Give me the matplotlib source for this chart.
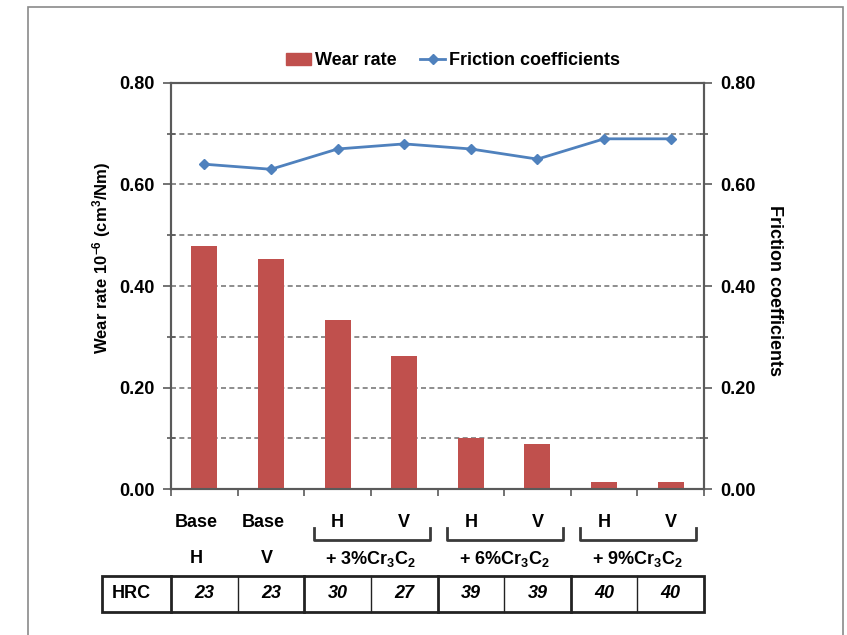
import numpy as np
import matplotlib
matplotlib.use('Agg')
import matplotlib.pyplot as plt
from matplotlib.patches import Patch, Rectangle
from matplotlib.lines import Line2D
from matplotlib.transforms import blended_transform_factory

plt.rcParams['font.family'] = ['Liberation Sans', 'DejaVu Sans']
plt.rcParams['font.weight'] = 'bold'
plt.rcParams['mathtext.fontset'] = 'custom'
plt.rcParams['mathtext.rm'] = 'Liberation Sans:bold'
plt.rcParams['mathtext.it'] = 'Liberation Sans:bold'
plt.rcParams['mathtext.bf'] = 'Liberation Sans:bold'

# data
top_labels = ['Base', 'Base', 'H', 'V', 'H', 'V', 'H', 'V']
base_labels = ['H', 'V']
group_labels = [r'+ 3%Cr$_3$C$_2$', r'+ 6%Cr$_3$C$_2$', r'+ 9%Cr$_3$C$_2$']
wear_rate = [0.478, 0.453, 0.333, 0.263, 0.101, 0.089, 0.013, 0.013]
friction = [0.64, 0.63, 0.67, 0.68, 0.67, 0.65, 0.69, 0.69]
hrc = [23, 23, 30, 27, 39, 39, 40, 40]

bar_c = '#C0504D'
line_c = '#4F81BD'
axis_c = '#5a5a5a'
fs = 13

fig = plt.figure(figsize=(8.47, 6.35), dpi=100)
ax = fig.add_axes([0.2019, 0.2299, 0.6293, 0.6394])
x = np.arange(len(wear_rate))
ax.bar(x, wear_rate, width=0.39, color=bar_c, zorder=3)
ax.set_xlim(-0.5, 7.5)
ax.set_ylim(0, 0.8)

yt = [0, 0.2, 0.4, 0.6, 0.8]
ax.set_yticks(yt)
ax.set_yticklabels(['%.2f' % v for v in yt], fontsize=fs, fontweight='bold')
ax.set_yticks([0.1, 0.3, 0.5, 0.7], minor=True)
ax.set_xticks(np.arange(-0.5, 8, 1))
ax.set_xticklabels([])
ax.tick_params(axis='x', direction='out', length=5, width=1.2, color=axis_c)
ax.tick_params(axis='y', which='major', direction='out', length=6, width=1.2, color=axis_c, pad=6)
ax.tick_params(axis='y', which='minor', direction='inout', length=6, width=1.2, color=axis_c)
ax.yaxis.grid(True, which='both', ls=(0, (3, 2)), color='#7a7a7a', lw=1.2, zorder=0)
ax.set_axisbelow(True)
for s in ax.spines.values():
    s.set_color(axis_c)
    s.set_linewidth(1.5)
ax.set_ylabel(r'Wear rate 10$^{-6}$ (cm$^3$/Nm)', fontsize=12, fontweight='bold')
ax.yaxis.set_label_coords(-0.108, 0.569)

ax2 = ax.twinx()
ax2.plot(x, friction, color=line_c, lw=2, marker='D', ms=5.5, zorder=4)
ax2.set_ylim(0, 0.8)
ax2.set_yticks(yt)
ax2.set_yticklabels(['%.2f' % v for v in yt], fontsize=fs, fontweight='bold')
ax2.set_yticks([0.1, 0.3, 0.5, 0.7], minor=True)
ax2.tick_params(axis='y', which='major', direction='out', length=6, width=1.2, color=axis_c, pad=6)
ax2.tick_params(axis='y', which='minor', direction='inout', length=6, width=1.2, color=axis_c)
for s in ax2.spines.values():
    s.set_color(axis_c)
    s.set_linewidth(1.5)
ax2.set_ylabel('Friction coefficients', fontsize=13, fontweight='bold', rotation=270, va='bottom')
ax2.yaxis.set_label_coords(1.116, 0.49)

handles = [Patch(color=bar_c), Line2D([], [], color=line_c, lw=2, marker='D', ms=5)]
fig.legend(handles, ['Wear rate', 'Friction coefficients'], loc='center',
           bbox_to_anchor=(0.535, 0.904), ncol=2, frameon=False,
           prop={'size': fs, 'weight': 'bold'}, handlelength=1.4,
           handletextpad=0.2, columnspacing=1.3, handleheight=0.7)

# labels, brackets and HRC table under the axis
tr = blended_transform_factory(ax.transData, fig.transFigure)
y_row1, y_row2 = 0.1764, 0.1197
for i, lab in enumerate(top_labels):
    dx = -0.12 if i < 2 else 0
    fig.text(i + dx, y_row1, lab, transform=tr, ha='center', va='center', fontsize=fs, fontweight='bold')
for i, lab in enumerate(base_labels):
    fig.text(i - 0.12 + 0.06 * i, y_row2, lab, transform=tr, ha='center', va='center', fontsize=fs, fontweight='bold')
for g, lab in enumerate(group_labels):
    a = 2 + 2 * g
    fig.text(a + 0.5, y_row2, lab, transform=tr, ha='center', va='center', fontsize=fs, fontweight='bold')
    x0, x1 = a - 0.36, a + 1.38
    ax.add_line(Line2D([x0, x0, x1, x1], [0.1685, 0.1496, 0.1496, 0.1685], transform=tr,
                       color='#3a3a3a', lw=2, clip_on=False))

t_top, t_bot, t_mid = 0.0929, 0.0362, 0.0646
t_left = -1.536
ax.add_patch(Rectangle((t_left, t_bot), 7.5 - t_left, t_top - t_bot, transform=tr,
                       fill=False, ec='#222222', lw=2, clip_on=False))
for b in np.arange(-0.5, 7, 1):
    thick = (b + 0.5) % 2 == 0 and b > 0 or b == -0.5
    ax.add_line(Line2D([b, b], [t_bot, t_top], transform=tr, color='#222222',
                       lw=2 if thick else 1, clip_on=False))
fig.text(-1.1, t_mid, 'HRC', transform=tr, ha='center', va='center', fontsize=fs, fontweight='bold')
for i, v in enumerate(hrc):
    fig.text(i, t_mid, str(v), transform=tr, ha='center', va='center', fontsize=fs,
             fontweight='bold', style='italic')

# outer frame of the picture
fig.add_artist(Rectangle((0.033, -0.02), 0.962, 1.009, transform=fig.transFigure,
                         fill=False, ec='#8a8a8a', lw=1.2))

fig.savefig('out.png', dpi=100)
